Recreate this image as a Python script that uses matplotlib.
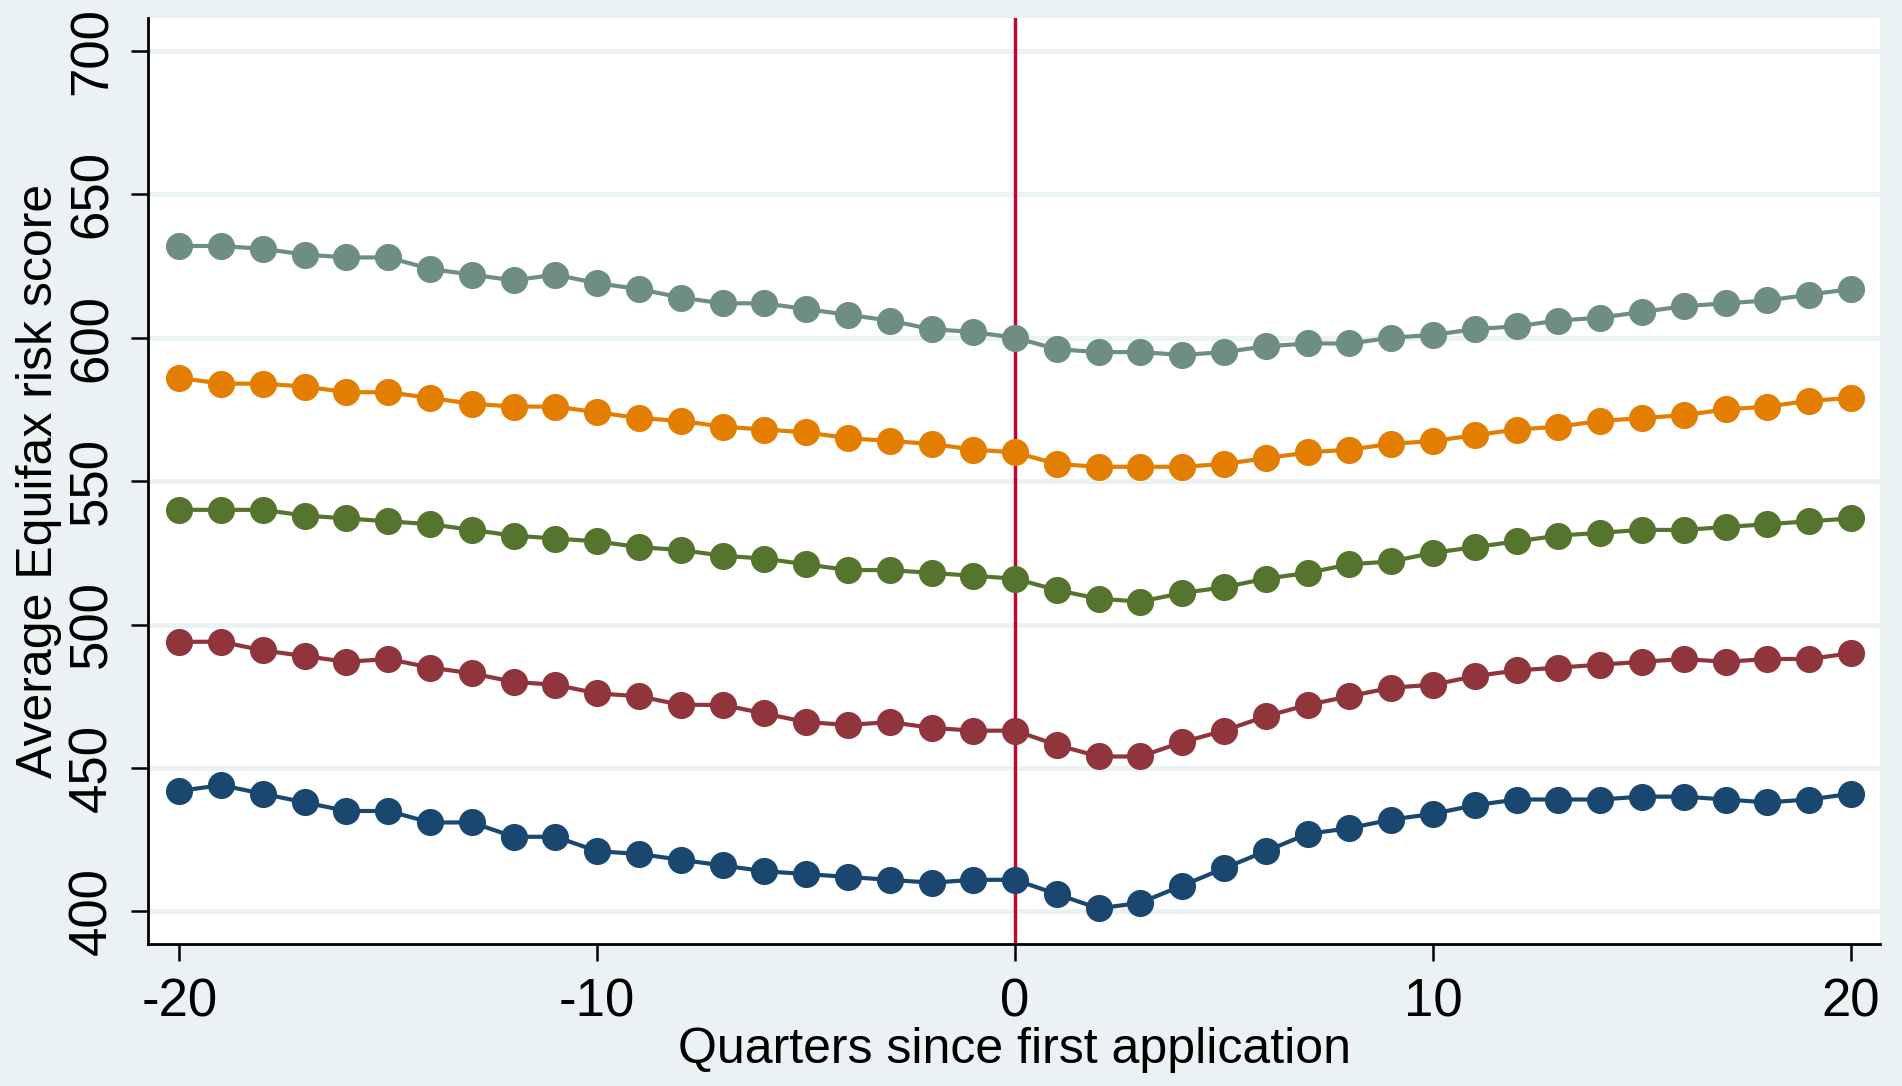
import numpy as np
import matplotlib
matplotlib.use('Agg')
import matplotlib.pyplot as plt

plt.rcParams['font.family'] = ['Liberation Sans', 'DejaVu Sans']
plt.rcParams['axes.unicode_minus'] = False

# Quarters since first application
quarters = np.arange(-20, 21)

# Average Equifax risk score, one series per group
score_teal = [632, 632, 631, 629, 628, 628, 624, 622, 620, 622, 619, 617, 614, 612, 612, 610,
              608, 606, 603, 602, 600, 596, 595, 595, 594, 595, 597, 598, 598, 600, 601,
              603, 604, 606, 607, 609, 611, 612, 613, 615, 617]
score_orange = [586, 584, 584, 583, 581, 581, 579, 577, 576, 576, 574, 572, 571, 569, 568, 567,
                565, 564, 563, 561, 560, 556, 555, 555, 555, 556, 558, 560, 561, 563, 564,
                566, 568, 569, 571, 572, 573, 575, 576, 578, 579]
score_green = [540, 540, 540, 538, 537, 536, 535, 533, 531, 530, 529, 527, 526, 524, 523, 521,
               519, 519, 518, 517, 516, 512, 509, 508, 511, 513, 516, 518, 521, 522, 525,
               527, 529, 531, 532, 533, 533, 534, 535, 536, 537]
score_maroon = [494, 494, 491, 489, 487, 488, 485, 483, 480, 479, 476, 475, 472, 472, 469, 466,
                465, 466, 464, 463, 463, 458, 454, 454, 459, 463, 468, 472, 475, 478, 479,
                482, 484, 485, 486, 487, 488, 487, 488, 488, 490]
score_navy = [442, 444, 441, 438, 435, 435, 431, 431, 426, 426, 421, 420, 418, 416, 414, 413,
              412, 411, 410, 411, 411, 406, 401, 403, 409, 415, 421, 427, 429, 432, 434,
              437, 439, 439, 439, 440, 440, 439, 438, 439, 441]

series = [score_navy, score_maroon, score_green, score_orange, score_teal]
colors = ['#1a476f', '#90353b', '#55752f', '#e37e00', '#6e8e84']

yticks = [400, 450, 500, 550, 600, 650, 700]
xticks = [-20, -10, 0, 10, 20]

bg = '#eaf2f3'
fig = plt.figure(figsize=(19.02, 10.86), dpi=100, facecolor=bg)
ax = fig.add_axes([0.0778, 0.1307, 0.9107, 0.8525])
ax.set_facecolor('white')

for yt in yticks:
    ax.axhline(yt, color=bg, lw=3.5, zorder=0)

ax.axvline(0, color='#c10534', lw=2.5, zorder=1)

for vals, c in zip(series, colors):
    ax.plot(quarters, vals, '-o', color=c, lw=3, markersize=18.5, zorder=3)

ax.set_xlim(-20.75, 20.7)
ax.set_ylim(388.6, 711.4)

for side in ['top', 'right']:
    ax.spines[side].set_visible(False)
for side in ['left', 'bottom']:
    ax.spines[side].set_linewidth(2)

ax.set_xticks(xticks)
ax.set_yticks(yticks)
ax.tick_params(axis='both', direction='out', length=12, width=1.8, labelsize=38)
ax.tick_params(axis='x', pad=12)
ax.tick_params(axis='y', pad=10)
plt.setp(ax.get_yticklabels(), rotation=90, va='center')

ax.set_xlabel('Quarters since first application', fontsize=36, labelpad=0)
ax.set_ylabel('Average Equifax risk score', fontsize=36, labelpad=4)

fig.savefig('out.png', dpi=100, facecolor=bg)
